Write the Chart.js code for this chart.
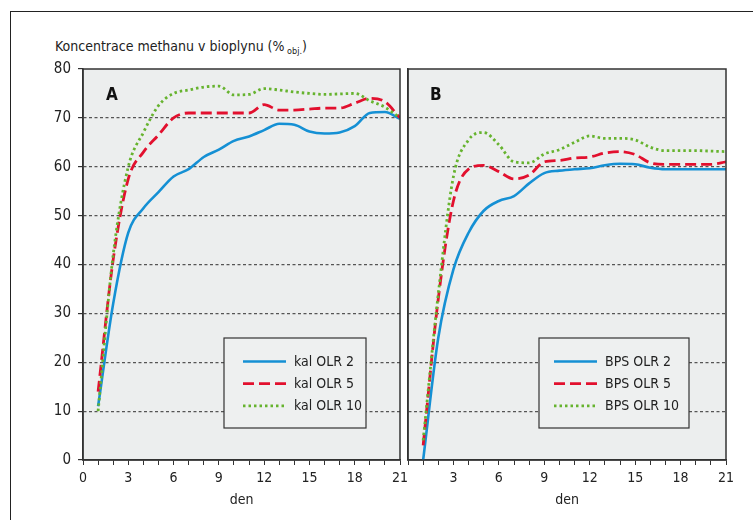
<!DOCTYPE html>
<html>
<head>
<meta charset="utf-8">
<script src="https://cdn.jsdelivr.net/npm/chart.js@4.4.1/dist/chart.umd.min.js"></script>
<style>
  html, body { margin: 0; padding: 0; background: #fff; }
  #wrap { position: relative; width: 753px; height: 520px; overflow: hidden;
    font-family: "Liberation Sans Narrow", "DejaVu Sans Condensed", "Liberation Sans", sans-serif; }
  #frame { position: absolute; left: 10px; top: 11px; width: 760px; height: 520px;
    border-left: 1.5px solid #222; border-top: 1.5px solid #222; }
  #title { position: absolute; left: 55px; top: 38px; font-size: 14px; color: #222; white-space: nowrap; }
  #title sub { font-size: 9px; vertical-align: -3px; }
  .box { position: absolute; top: 0; height: 520px; }
  #boxA { left: 0; width: 420px; z-index: 1; }
  #boxB { left: 402px; width: 351px; z-index: 2; }
</style>
</head>
<body>
<div id="wrap">
  <div id="frame"></div>
  <div id="title">Koncentrace methanu v bioplynu (%<sub> obj.</sub>)</div>
  <div class="box" id="boxA"><canvas id="chartA" width="420" height="520"></canvas></div>
  <div class="box" id="boxB"><canvas id="chartB" width="351" height="520"></canvas></div>
</div>
<script>
const days = [1, 2, 3, 4, 5, 6, 7, 8, 9, 10, 11, 12, 13, 14, 15, 16, 17, 18, 19, 20, 21];
const xTickLabels = [0, 3, 6, 9, 12, 15, 18, 21];
const yTicks = [0, 10, 20, 30, 40, 50, 60, 70, 80];

const labelsA = ['kal OLR 2', 'kal OLR 5', 'kal OLR 10'];
const labelsB = ['BPS OLR 2', 'BPS OLR 5', 'BPS OLR 10'];

const kal2 = [11, 32, 46.5, 51.5, 54.8, 58, 59.5, 62, 63.5, 65.3, 66.2, 67.5, 68.8, 68.6, 67.2, 66.8, 67, 68.3, 71, 71.2, 69.8];
const kal5 = [14, 41, 57.5, 63, 66.5, 70, 71, 71, 71, 71, 71, 72.7, 71.6, 71.6, 71.8, 72, 72, 73, 74, 73.3, 70];
const kal10 = [10, 42, 60, 67, 72.5, 75, 75.7, 76.3, 76.5, 74.7, 74.8, 76, 75.7, 75.3, 75, 74.8, 74.9, 75, 73.5, 72.2, 70];

const bps2 = [0, 25, 39, 46.5, 51, 53, 54, 56.6, 58.7, 59.2, 59.5, 59.7, 60.3, 60.6, 60.5, 59.8, 59.5, 59.5, 59.5, 59.5, 59.5];
const bps5 = [3, 33, 53, 59.5, 60.3, 59, 57.5, 58.3, 61, 61.3, 61.8, 62, 62.8, 63.1, 62.5, 60.8, 60.5, 60.5, 60.5, 60.5, 61];
const bps10 = [4, 34, 58, 65.5, 67, 64.5, 61, 60.8, 62.6, 63.5, 65, 66.3, 65.8, 65.8, 65.5, 64, 63.3, 63.3, 63.3, 63.2, 63.1];

const FONT = '"Liberation Sans Narrow", "DejaVu Sans Condensed", "Liberation Sans", sans-serif';
const styles = [
  { borderColor: '#1590d4', borderWidth: 2.6, borderDash: [], order: 3 },
  { borderColor: '#e2102e', borderWidth: 2.8, borderDash: [11, 5], order: 2 },
  { borderColor: '#66b32e', borderWidth: 2.8, borderDash: [2.5, 3], order: 1 }
];

function makeSets(labels, series) {
  return series.map((vals, i) => ({
    label: labels[i],
    data: days.map((d, k) => ({ x: d, y: vals[k] })),
    borderColor: styles[i].borderColor,
    borderWidth: styles[i].borderWidth,
    borderDash: styles[i].borderDash,
    order: styles[i].order,
    pointRadius: 0,
    fill: false,
    cubicInterpolationMode: 'monotone'
  }));
}

// panel background, frame, letter and legend
const panelPlugin = {
  id: 'panel',
  beforeDraw(chart, args, opts) {
    const { ctx, chartArea: a } = chart;
    ctx.save();
    ctx.fillStyle = '#eceeee';
    ctx.fillRect(a.left, a.top, a.right - a.left, a.bottom - a.top);
    ctx.restore();
  },
  afterDatasetsDraw(chart, args, opts) {
    const { ctx, chartArea: a } = chart;
    ctx.save();
    ctx.strokeStyle = '#333';
    ctx.lineWidth = 1.5;
    ctx.strokeRect(a.left, a.top, a.right - a.left, a.bottom - a.top);

    ctx.fillStyle = '#111';
    ctx.font = 'bold 17px ' + FONT;
    ctx.textBaseline = 'middle';
    ctx.fillText(opts.letter, a.left + opts.letterDx, 96);

    // legend box
    const L = opts.legend;
    ctx.fillStyle = '#eef0f0';
    ctx.fillRect(L.x, L.y, L.w, L.h);
    ctx.strokeStyle = '#333';
    ctx.lineWidth = 1.2;
    ctx.strokeRect(L.x, L.y, L.w, L.h);
    chart.data.datasets.forEach((ds, i) => {
      const y = L.y + 23.5 + i * 22.2;
      ctx.strokeStyle = ds.borderColor;
      ctx.lineWidth = ds.borderWidth;
      ctx.setLineDash(ds.borderDash);
      ctx.beginPath();
      ctx.moveTo(L.x + L.lx, y);
      ctx.lineTo(L.x + L.lx + 43, y);
      ctx.stroke();
      ctx.setLineDash([]);
      ctx.fillStyle = '#222';
      ctx.font = '14px ' + FONT;
      ctx.textBaseline = 'middle';
      ctx.fillText(ds.label, L.x + L.tx, y + 0.5);
    });
    ctx.restore();
  }
};

function makeChart(id, labels, series, cfg) {
  return new Chart(document.getElementById(id), {
    type: 'line',
    data: { datasets: makeSets(labels, series) },
    plugins: [panelPlugin],
    options: {
      responsive: false,
      animation: false,
      layout: { padding: { top: 69, right: cfg.padRight, bottom: 11, left: 0 } },
      plugins: {
        legend: { display: false },
        tooltip: { enabled: false },
        panel: cfg.panel
      },
      scales: {
        x: {
          type: 'linear',
          min: 0,
          max: 21,
          afterFit(scale) { scale.height = 49; },
          ticks: {
            stepSize: 1,
            autoSkip: false,
            maxRotation: 0,
            padding: 5,
            color: '#222',
            font: { family: FONT, size: 14 },
            callback: v => (xTickLabels.includes(v) && !(cfg.skipZero && v === 0)) ? String(v) : ''
          },
          grid: { drawOnChartArea: false, drawTicks: true, tickLength: 5, color: '#333', tickWidth: 1 },
          border: { display: true, color: '#333', width: 1.5 },
          title: { display: true, text: 'den', color: '#222', font: { family: FONT, size: 14 }, padding: { top: 2, bottom: 0 } }
        },
        y: {
          min: 0,
          max: 80,
          afterFit(scale) { scale.width = cfg.yWidth; },
          afterBuildTicks(scale) { scale.ticks = yTicks.map(v => ({ value: v })); },
          ticks: {
            display: cfg.yLabels,
            padding: 7,
            color: '#222',
            font: { family: FONT, size: 15 }
          },
          grid: {
            drawTicks: cfg.yLabels,
            tickLength: 5,
            tickBorderDash: [],
            tickColor: '#333',
            color: c => (c.tick && (c.tick.value === 0 || c.tick.value === 80)) ? 'rgba(0,0,0,0)' : '#555',
            lineWidth: 1.2
          },
          border: { display: true, color: '#333', width: 1.5, dash: [3, 2.5] }
        }
      }
    }
  });
}

makeChart('chartA', labelsA, [kal2, kal5, kal10], {
  padRight: 20,
  yWidth: 83,
  yLabels: true,
  skipZero: false,
  panel: { letter: 'A', letterDx: 23, legend: { x: 224, y: 338, w: 142, h: 90, lx: 19, tx: 70 } }
});

makeChart('chartB', labelsB, [bps2, bps5, bps10], {
  padRight: 27,
  yWidth: 6,
  yLabels: false,
  skipZero: true,
  panel: { letter: 'B', letterDx: 22, legend: { x: 137, y: 338, w: 150, h: 90, lx: 15, tx: 66 } }
});
</script>
</body>
</html>
